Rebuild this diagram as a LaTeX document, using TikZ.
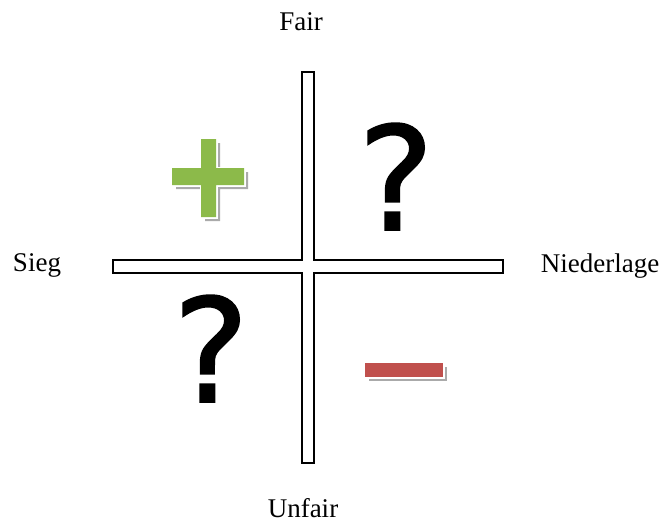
\documentclass[tikz,border=0pt]{standalone}
\usepackage{fontspec}
\setmainfont{Liberation Serif}
\newfontfamily\qfont[FakeBold=1.2]{DejaVu Sans}
\definecolor{plusgreen}{RGB}{140,186,74}
\definecolor{minusred}{RGB}{192,80,77}
\definecolor{shadowgray}{RGB}{170,170,170}
\begin{document}
\begin{tikzpicture}[x=1pt,y=-1pt,
  lbl/.style={font=\fontsize{27}{30}\selectfont, anchor=base, inner sep=0pt},
  qmark/.style={font=\qfont\fontsize{144}{150}\selectfont, anchor=base, inner sep=0pt},
  shadowshape/.style={fill=shadowgray, draw=none},
  whiteborder/.style={draw=white, line width=3pt, line join=miter}
]
\useasboundingbox (0,0) rectangle (666,522);
% cross
\draw[line width=1.8pt, fill=white, line join=miter]
  (302,72) -- (314,72) -- (314,260) -- (503,260) -- (503,273) -- (314,273)
  -- (314,463) -- (302,463) -- (302,273) -- (113,273) -- (113,260) -- (302,260) -- cycle;
% labels
\node[lbl] (fair) at (301,30) {Fair};
\node[lbl] (unfair) at (303,517) {Unfair};
\node[lbl] (sieg) at (37,271) {Sieg};
\node[lbl] (nied) at (600,272) {Niederlage};
% question marks
\node[qmark] (q1) at (396,230) {?};
\node[qmark] (q2) at (211,402) {?};
% plus
\def\plusshape{(201,139) -- (216,139) -- (216,168) -- (244,168) -- (244,185) -- (216,185)
  -- (216,217) -- (201,217) -- (201,185) -- (172,185) -- (172,168) -- (201,168) -- cycle}
\fill[shadowshape, shift={(4,4)}] \plusshape;
\draw[whiteborder] \plusshape;
\fill[plusgreen] \plusshape;
% minus
\fill[shadowshape, shift={(4,4)}] (365,363) rectangle (443,377);
\draw[whiteborder] (365,363) rectangle (443,377);
\fill[minusred] (365,363) rectangle (443,377);
\end{tikzpicture}
\end{document}
